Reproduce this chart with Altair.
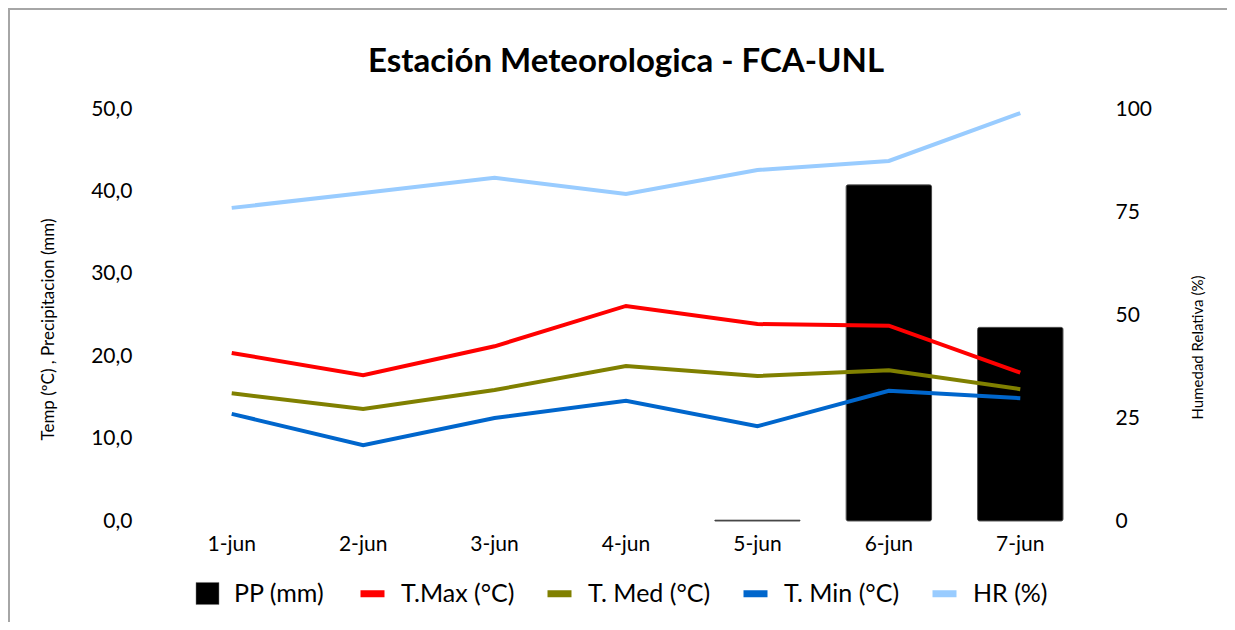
import altair as alt
import pandas as pd

dias = ["1-jun", "2-jun", "3-jun", "4-jun", "5-jun", "6-jun", "7-jun"]
pp = [0.0, 0.0, 0.0, 0.0, 0.1, 40.8, 23.5]
t_max = [20.4, 17.7, 21.2, 26.1, 23.9, 23.7, 18.0]
t_med = [15.5, 13.6, 15.9, 18.8, 17.6, 18.3, 16.0]
t_min = [13.0, 9.2, 12.5, 14.6, 11.5, 15.8, 14.9]
hr = [76.0, 79.6, 83.3, 79.4, 85.2, 87.4, 99.0]

series_lines = ["T.Max (°C)", "T. Med (°C)", "T. Min (°C)", "HR (%)"]
colors_lines = ["#FF0000", "#808000", "#0066CC", "#99CCFF"]

FONT = "Lato"
W, H = 920, 412

df_pp = pd.DataFrame({"dia": dias, "valor": pp, "serie": "PP (mm)"})
df_t = pd.concat([
    pd.DataFrame({"dia": dias, "valor": v, "serie": s})
    for s, v in [("T.Max (°C)", t_max), ("T. Med (°C)", t_med), ("T. Min (°C)", t_min)]
])
df_hr = pd.DataFrame({"dia": dias, "valor": hr, "serie": "HR (%)"})

x = alt.X("dia:N", sort=dias, title=None,
          scale=alt.Scale(paddingInner=0.35, paddingOuter=0.175),
          axis=alt.Axis(labelAngle=0, labelPadding=12, labelFontSize=21,
                        domain=False, ticks=False, grid=False))

left_axis = alt.Axis(values=[0, 10, 20, 30, 40, 50],
                     labelExpr="replace(format(datum.value, '.1f'), '.', ',')",
                     title="Temp (ºC) , Precipitacion (mm)",
                     titleFontSize=17, titleFontWeight="normal",
                     titleAngle=270, titleX=-118, titleY=220,
                     titleAlign="center", titleBaseline="middle",
                     labelFontSize=21, labelPadding=34,
                     domain=False, ticks=False, grid=False)
yL = alt.Y("valor:Q", scale=alt.Scale(domain=[0, 50]), axis=left_axis)

stroke_legend = alt.Legend(title=None, orient="none", direction="horizontal",
                           legendX=191, legendY=469,
                           symbolType="stroke", symbolSize=576, symbolStrokeWidth=7,
                           labelFontSize=25, labelOffset=13, columnPadding=18,
                           labelFont=FONT, labelColor="#000")
stroke = alt.Stroke("serie:N", scale=alt.Scale(domain=series_lines, range=colors_lines),
                    legend=stroke_legend)

bars = alt.Chart(df_pp).transform_filter("datum.valor > 0").mark_bar(
    cornerRadius=2, stroke="#404040", strokeWidth=0.9
).encode(
    x=x, y=yL,
    fill=alt.Fill("serie:N", scale=alt.Scale(domain=["PP (mm)"], range=["#000000"]),
                  legend=alt.Legend(title=None, orient="none", direction="horizontal",
                                    legendX=29, legendY=472,
                                    symbolType="M-1,-0.96H1V0.96H-1Z", symbolSize=529,
                                    symbolStrokeColor="#7f7f7f", symbolStrokeWidth=0.5,
                                    labelFontSize=25, labelOffset=14,
                                    labelFont=FONT, labelColor="#000"))
)

temps = alt.Chart(df_t).mark_line(strokeWidth=4).encode(
    x=x, y=yL, stroke=stroke, detail="serie:N"
)

left = alt.layer(bars, temps)

hr_line = alt.Chart(df_hr).mark_line(strokeWidth=4).encode(
    x=x,
    y=alt.Y("valor:Q", scale=alt.Scale(domain=[0, 100]),
            axis=alt.Axis(orient="right", values=[0, 25, 50, 75, 100],
                          title="Humedad Relativa (%)", titleFontSize=15,
                          titleFontWeight="normal", titleAngle=270,
                          titleX=111, titleY=238, titleAlign="center",
                          titleBaseline="middle",
                          labelFontSize=21, labelPadding=29,
                          domain=False, ticks=False, grid=False)),
    stroke=stroke,
)

frame = alt.Chart(alt.Data(values=[{"a": 1}])).mark_rect(
    fill="transparent", stroke="#a6a6a6", strokeWidth=2
).encode(x=alt.value(-157), x2=alt.value(1400), y=alt.value(-100), y2=alt.value(800))

chart = alt.layer(frame, left, hr_line).resolve_scale(
    y="independent"
).properties(
    width=W, height=H,
    background="white",
    autosize=alt.AutoSizeParams(type="none"),
    padding={"left": 158, "top": 101, "right": 141, "bottom": 101},
    title=alt.TitleParams("Estación Meteorologica - FCA-UNL", fontSize=33,
                          font=FONT, fontWeight="bold", anchor="middle",
                          frame="group", baseline="alphabetic",
                          offset=-97, color="#000"),
).configure_view(strokeWidth=0).configure_axis(
    labelFont=FONT, titleFont=FONT, labelColor="#000", titleColor="#000"
)

chart.save("out.html", embed_options={"renderer": "svg", "actions": False})
